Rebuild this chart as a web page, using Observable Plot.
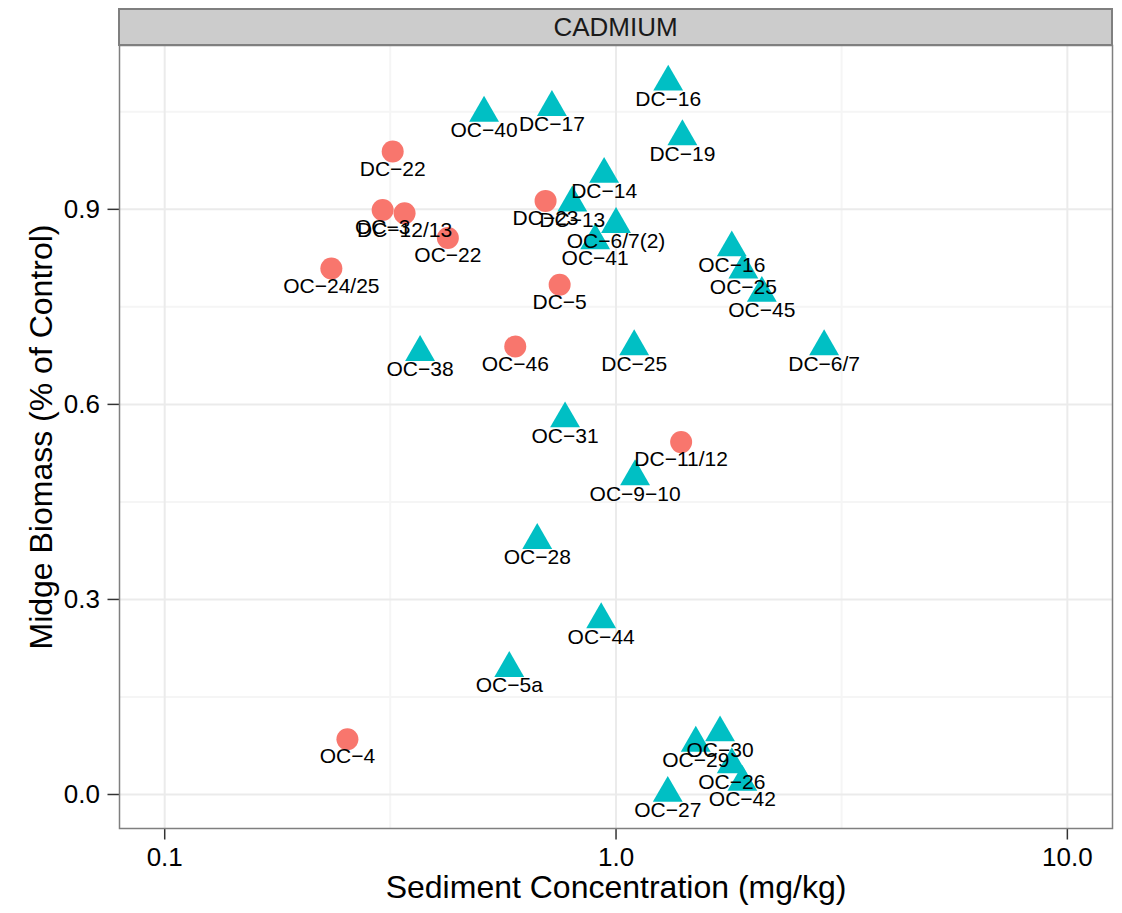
<!DOCTYPE html>
<html><head><meta charset="utf-8">
<script src="https://cdn.jsdelivr.net/npm/d3@7"></script>
<script src="https://cdn.jsdelivr.net/npm/@observablehq/plot@0.6"></script>
<style>
body{margin:0;background:#fff;font-family:"Liberation Sans",Arial,sans-serif;}
#wrap{position:relative;width:1122px;height:913px;}
#strip{position:absolute;z-index:2;left:118px;top:8px;width:995px;height:38px;box-sizing:border-box;background:#CCCCCC;border:2px solid #7F7F7F;display:flex;align-items:center;justify-content:center;font-size:26px;color:#1a1a1a;}
</style></head><body><div id="wrap"><div id="strip">CADMIUM</div></div>
<script>
// Facet title
const panelTitle = "CADMIUM";
// Red circles group
const circleSites = ["DC-22","OC-3","DC-12/13","OC-22","OC-24/25","DC-23","DC-5","OC-46","DC-11/12","OC-4"];
const circleConc  = [0.320, 0.304, 0.340, 0.424, 0.234, 0.698, 0.750, 0.598, 1.394, 0.254];
const circleBio   = [0.989, 0.899, 0.894, 0.856, 0.809, 0.913, 0.784, 0.689, 0.542, 0.085];
// Teal triangles group
const triSites = ["DC-16","OC-40","DC-17","DC-19","DC-14","DC-13","OC-6/7(2)","OC-41","OC-16","OC-25","OC-45","DC-6/7","DC-25","OC-38","OC-31","OC-9-10","OC-28","OC-44","OC-5a","OC-30","OC-29","OC-26","OC-42","OC-27"];
const triConc  = [1.305, 0.510, 0.721, 1.403, 0.941, 0.800, 1.000, 0.899, 1.805, 1.915, 2.104, 2.891, 1.097, 0.368, 0.771, 1.102, 0.669, 0.927, 0.580, 1.700, 1.502, 1.805, 1.905, 1.302];
const triBio   = [1.096, 1.048, 1.057, 1.012, 0.954, 0.910, 0.877, 0.852, 0.841, 0.807, 0.771, 0.689, 0.689, 0.680, 0.578, 0.489, 0.391, 0.269, 0.194, 0.095, 0.079, 0.046, 0.019, 0.002];
// Axes
const xTicks = [0.1, 1, 10];
const xMinor = [0.316, 3.16];
const xLimits = [0.0794, 12.59];
const yTicks = [0, 0.3, 0.6, 0.9];
const yMinor = [0.15, 0.45, 0.75, 1.05];
const yLimits = [-0.0523, 1.152];
const xTitle = "Sediment Concentration (mg/kg)";
const yTitle = "Midge Biomass (% of Control)";

document.getElementById("strip").textContent = panelTitle;
const circles = circleSites.map((s,i)=>({site:s, conc:circleConc[i], bio:circleBio[i]}));
const tris = triSites.map((s,i)=>({site:s, conc:triConc[i], bio:triBio[i]}));
const lab = d => d.site.replace(/-/g, "\u2212");

const chart = Plot.plot({
  width: 1122, height: 913,
  marginLeft: 119, marginRight: 10, marginTop: 45, marginBottom: 85,
  x: {type: "log", domain: xLimits},
  y: {domain: yLimits},
  style: {fontFamily: "'Liberation Sans', Arial, sans-serif", background: "white", color: "black"},
  marks: [
    Plot.ruleX(xMinor, {stroke: "#F5F5F5", strokeWidth: 2}),
    Plot.ruleY(yMinor, {stroke: "#F5F5F5", strokeWidth: 2}),
    Plot.ruleX(xTicks, {stroke: "#EBEBEB", strokeWidth: 2}),
    Plot.ruleY(yTicks, {stroke: "#EBEBEB", strokeWidth: 2}),
    Plot.axisX(xTicks, {tickFormat: d => d3.format(".1f")(d), tickSize: 11.5, tickPadding: 8, fontSize: 26, stroke: "#333333", strokeWidth: 1.5, label: null}),
    Plot.axisY(yTicks, {tickFormat: d => d3.format(".1f")(d), tickSize: 11.5, tickPadding: 8, fontSize: 26, stroke: "#333333", strokeWidth: 1.5, label: null}),
    Plot.dot(circles, {x: "conc", y: "bio", r: 11, fill: "#F8766D", symbol: "circle"}),
    Plot.dot(tris, {x: "conc", y: "bio", r: 11.1, fill: "#00BFC4", symbol: d3.symbolTriangle}),
    Plot.text(circles, {x: "conc", y: "bio", text: lab, fontSize: 21, dy: 17.3, lineAnchor: "middle", fill: "black"}),
    Plot.text(tris, {x: "conc", y: "bio", text: lab, fontSize: 21, dy: 17.3, lineAnchor: "middle", fill: "black"}),
    Plot.frame({stroke: "#7F7F7F", strokeWidth: 1.5}),
    Plot.text([xTitle], {frameAnchor: "bottom", dy: 58.8, fontSize: 32, lineAnchor: "middle", textAnchor: "middle", fill: "black"}),
    Plot.text([yTitle], {frameAnchor: "left", dx: -77.7, rotate: -90, fontSize: 32, lineAnchor: "middle", textAnchor: "middle", fill: "black"})
  ]
});
document.getElementById("wrap").appendChild(chart);
chart.style.position = "absolute";
chart.style.left = "0px";
chart.style.top = "0px";
</script>
</body></html>
